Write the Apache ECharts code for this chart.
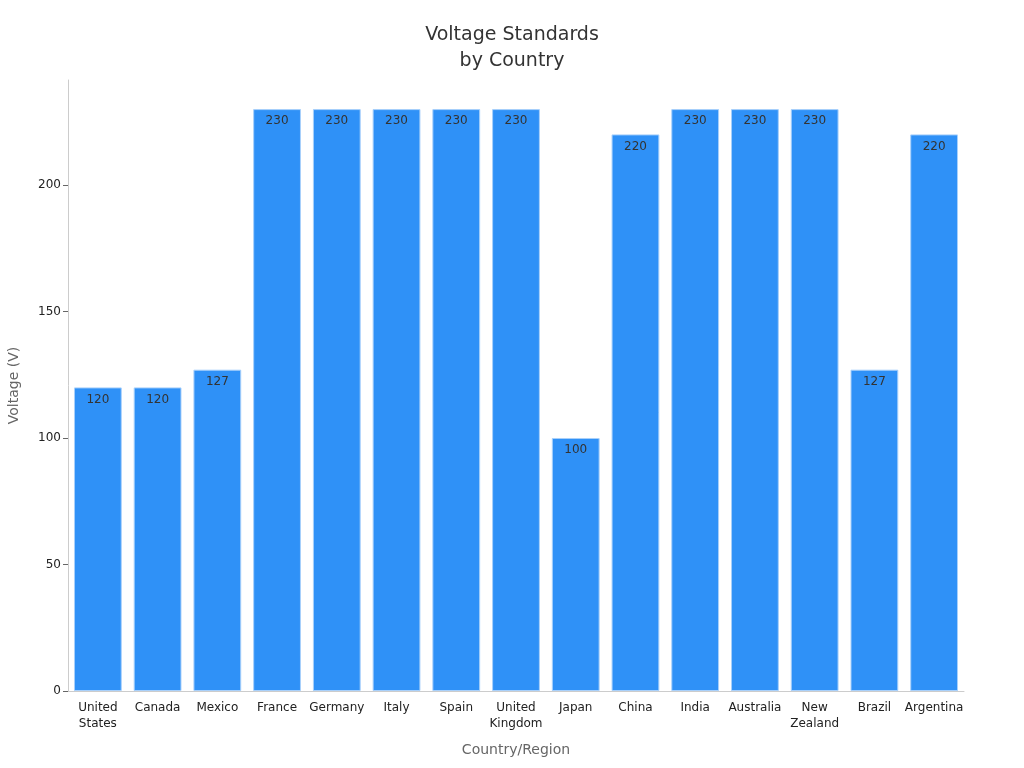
<!DOCTYPE html>
<html>
<head>
<meta charset="utf-8">
<script src="https://cdn.jsdelivr.net/npm/echarts@6/dist/echarts.min.js"></script>
<style>
  html, body { margin: 0; padding: 0; background: #fff; }
  #chart { width: 1024px; height: 768px; }
</style>
</head>
<body>
<div id="chart"></div>
<script>
var countries = ['United\nStates', 'Canada', 'Mexico', 'France', 'Germany', 'Italy', 'Spain',
  'United\nKingdom', 'Japan', 'China', 'India', 'Australia', 'New\nZealand', 'Brazil', 'Argentina'];
var voltages = [120, 120, 127, 230, 230, 230, 230, 230, 100, 220, 230, 230, 230, 127, 220];
var yTicks = [0, 50, 100, 150, 200];

var chart = echarts.init(document.getElementById('chart'));

var option = {
  textStyle: { fontFamily: 'DejaVu Sans' },
  title: {
    text: 'Voltage Standards\nby Country',
    left: 'center',
    top: 17,
    textStyle: {
      fontSize: 19,
      fontWeight: 'normal',
      color: '#333',
      lineHeight: 26,
      fontFamily: 'DejaVu Sans'
    }
  },
  grid: {
    left: 68,
    right: 60,
    top: 80,
    bottom: 77,
    containLabel: false,
    outerBoundsMode: 'none'
  },
  xAxis: {
    type: 'category',
    data: countries,
    name: 'Country/Region',
    nameLocation: 'middle',
    nameGap: 52,
    nameTextStyle: { fontSize: 14, color: '#666' },
    axisLine: { lineStyle: { color: '#ccc' } },
    axisTick: { alignWithLabel: true, lineStyle: { color: '#666' } },
    axisLabel: { color: '#222', fontSize: 12, interval: 0, lineHeight: 16, margin: 9 }
  },
  yAxis: {
    type: 'value',
    min: 0,
    max: 241.5,
    interval: 50,
    name: 'Voltage (V)',
    nameLocation: 'middle',
    nameGap: 47,
    nameTextStyle: { fontSize: 14, color: '#666' },
    axisLine: { show: true, lineStyle: { color: '#ccc' } },
    axisTick: { show: true, customValues: yTicks, lineStyle: { color: '#666' } },
    splitLine: { show: false },
    axisLabel: { color: '#222', fontSize: 12, customValues: yTicks, margin: 7 }
  },
  series: [
    {
      type: 'bar',
      data: voltages,
      barCategoryGap: '20%',
      itemStyle: {
        color: '#2f91f7',
        borderColor: '#a8d0fb',
        borderWidth: 1
      },
      label: {
        show: true,
        position: 'insideTop',
        distance: 6,
        color: '#333',
        fontSize: 12
      }
    }
  ]
};

chart.setOption(option);
</script>
</body>
</html>
